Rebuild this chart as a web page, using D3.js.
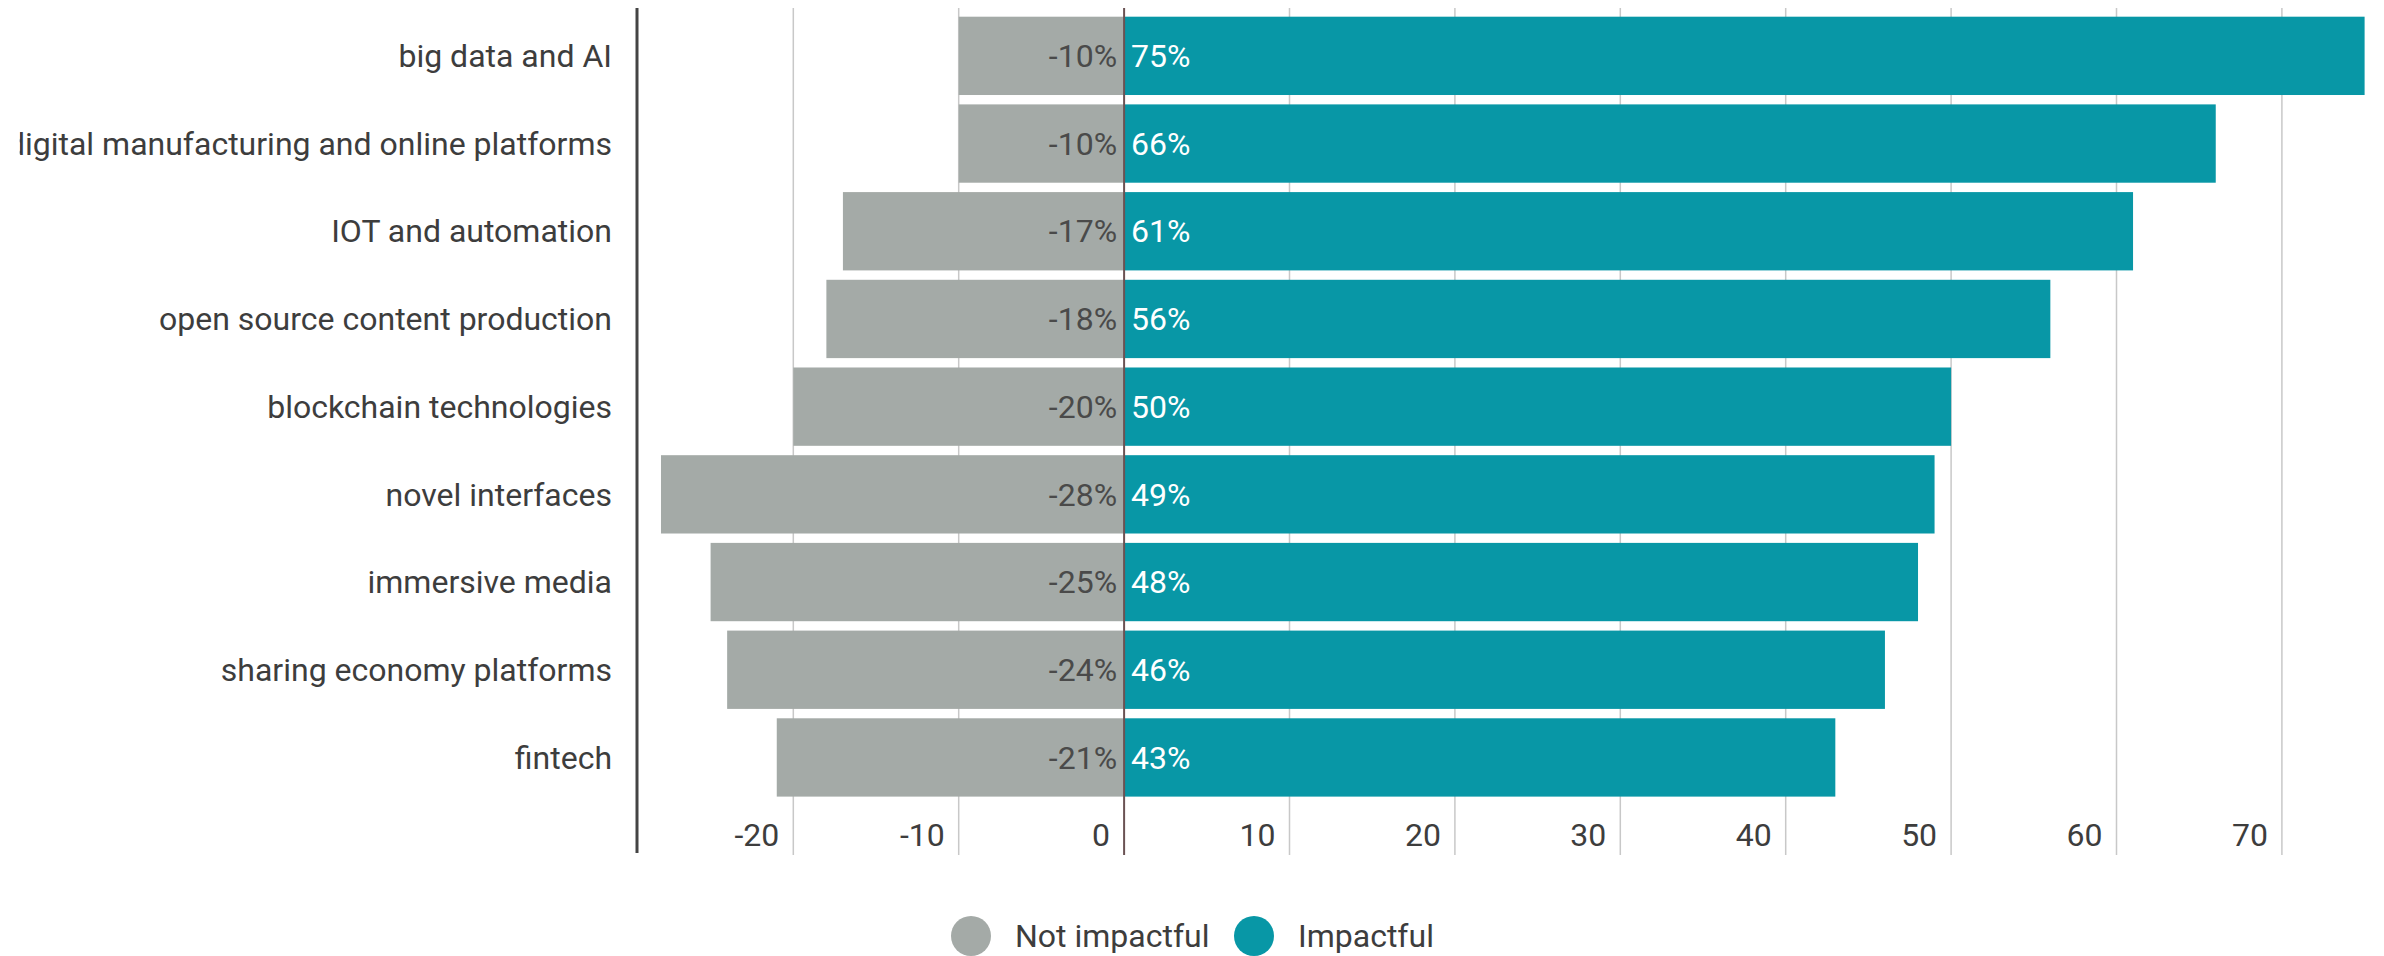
<!DOCTYPE html>
<html>
<head>
<meta charset="utf-8">
<script src="https://cdn.jsdelivr.net/npm/d3@7"></script>
<style>
    body { margin: 0; background: #ffffff; }
    svg text { font-family: Roboto, "Noto Sans", sans-serif; }
</style>
</head>
<body>
<div id="barchart-div"></div>
<script>
const categories = [
    "big data and AI",
    "digital manufacturing and online platforms",
    "IOT and automation",
    "open source content production",
    "blockchain technologies",
    "novel interfaces",
    "immersive media",
    "sharing economy platforms",
    "fintech"
];
const notImpactful = [-10, -10, -17, -18, -20, -28, -25, -24, -21];
const impactful = [75, 66, 61, 56, 50, 49, 48, 46, 43];
const tickValues = [-20, -10, 0, 10, 20, 30, 40, 50, 60, 70];
const legendLabels = ["Not impactful", "Impactful"];

const WIDTH = 2384;
const HEIGHT = 956;
const AXIS_X = 637;
const TOP = 8;
const BOTTOM = 855;
const GRAY = "#a4aaa7";
const TEAL = "#0897a6";
const TEXT = "#3d3d3d";
const FONT_SIZE = 32;

let rows = categories.map((c, i) => {
    return { name: c, neg: notImpactful[i], pos: impactful[i] };
});

let svg = d3.select("#barchart-div")
    .append("svg")
    .attr("width", WIDTH)
    .attr("height", HEIGHT);

let xScale = d3.scaleLinear()
    .domain([-29.45, 75.5])
    .range([AXIS_X, AXIS_X + 104.95 * 16.54]);

let yScale = d3.scaleBand()
    .domain(categories)
    .range([12, 801.3])
    .paddingInner(0.107)
    .paddingOuter(0.0535);

// grid lines (zero line is drawn later on top of the bars)
svg.append("g")
    .selectAll("line")
    .data(tickValues.filter(t => t !== 0))
    .enter().append("line")
    .attr("x1", d => xScale(d))
    .attr("x2", d => xScale(d))
    .attr("y1", TOP)
    .attr("y2", BOTTOM)
    .attr("stroke", "#c8c8c8")
    .attr("stroke-width", 1.5);

// bars
let bars = svg.append("g");
bars.selectAll(".neg-bar")
    .data(rows)
    .enter().append("rect")
    .classed("neg-bar", true)
    .attr("x", d => xScale(d.neg))
    .attr("y", d => yScale(d.name))
    .attr("width", d => xScale(0) - xScale(d.neg))
    .attr("height", yScale.bandwidth())
    .attr("fill", GRAY);

bars.selectAll(".pos-bar")
    .data(rows)
    .enter().append("rect")
    .classed("pos-bar", true)
    .attr("x", xScale(0))
    .attr("y", d => yScale(d.name))
    .attr("width", d => xScale(d.pos) - xScale(0))
    .attr("height", yScale.bandwidth())
    .attr("fill", TEAL);

// zero line
svg.append("line")
    .attr("x1", xScale(0))
    .attr("x2", xScale(0))
    .attr("y1", TOP)
    .attr("y2", BOTTOM)
    .attr("stroke", "#6a5253")
    .attr("stroke-width", 2);

// value labels
let labels = svg.append("g").style("font-size", FONT_SIZE + "px");
labels.selectAll(".neg-label")
    .data(rows)
    .enter().append("text")
    .attr("x", xScale(0) - 7)
    .attr("y", d => yScale(d.name) + yScale.bandwidth() / 2)
    .attr("dy", "0.35em")
    .attr("text-anchor", "end")
    .attr("fill", "#4a4a4a")
    .text(d => d.neg + "%");

labels.selectAll(".pos-label")
    .data(rows)
    .enter().append("text")
    .attr("x", xScale(0) + 7)
    .attr("y", d => yScale(d.name) + yScale.bandwidth() / 2)
    .attr("dy", "0.35em")
    .attr("text-anchor", "start")
    .attr("fill", "#ffffff")
    .text(d => d.pos + "%");

// category labels, clipped on the left like the source image
let clipRect = svg.append("clipPath")
    .attr("id", "label-clip")
    .append("rect")
    .attr("x", 0)
    .attr("y", 0)
    .attr("width", AXIS_X)
    .attr("height", HEIGHT);

let catLabels = svg.append("g")
    .attr("clip-path", "url(#label-clip)")
    .style("font-size", FONT_SIZE + "px")
    .selectAll("text")
    .data(categories)
    .enter().append("text")
    .attr("x", 612)
    .attr("y", d => yScale(d) + yScale.bandwidth() / 2)
    .attr("dy", "0.35em")
    .attr("text-anchor", "end")
    .attr("fill", TEXT)
    .text(d => d);

// the longest label runs off the left edge: only the stem of its "d" shows
let longest = catLabels.nodes()[1];
let start = 612 - longest.getComputedTextLength();
let clipX = Math.max(0, start + 0.40 * FONT_SIZE);
clipRect.attr("x", clipX).attr("width", AXIS_X - clipX);

// left axis line
svg.append("line")
    .attr("x1", AXIS_X)
    .attr("x2", AXIS_X)
    .attr("y1", TOP)
    .attr("y2", 853)
    .attr("stroke", "#444444")
    .attr("stroke-width", 3);

// x tick labels (left of each grid line)
svg.append("g")
    .style("font-size", FONT_SIZE + "px")
    .selectAll("text")
    .data(tickValues)
    .enter().append("text")
    .attr("x", d => xScale(d) - 14)
    .attr("y", 835)
    .attr("dy", "0.35em")
    .attr("text-anchor", "end")
    .attr("fill", TEXT)
    .text(d => String(d));

// legend
let legendX = [971, 1254];
let legendColors = [GRAY, TEAL];
let legend = svg.append("g").style("font-size", FONT_SIZE + "px");
legend.selectAll("circle")
    .data(legendLabels)
    .enter().append("circle")
    .attr("cx", (d, i) => legendX[i])
    .attr("cy", 936)
    .attr("r", 20)
    .attr("fill", (d, i) => legendColors[i]);

legend.selectAll("text")
    .data(legendLabels)
    .enter().append("text")
    .attr("x", (d, i) => legendX[i] + 44)
    .attr("y", 936)
    .attr("dy", "0.35em")
    .attr("fill", TEXT)
    .text(d => d);
</script>
</body>
</html>
